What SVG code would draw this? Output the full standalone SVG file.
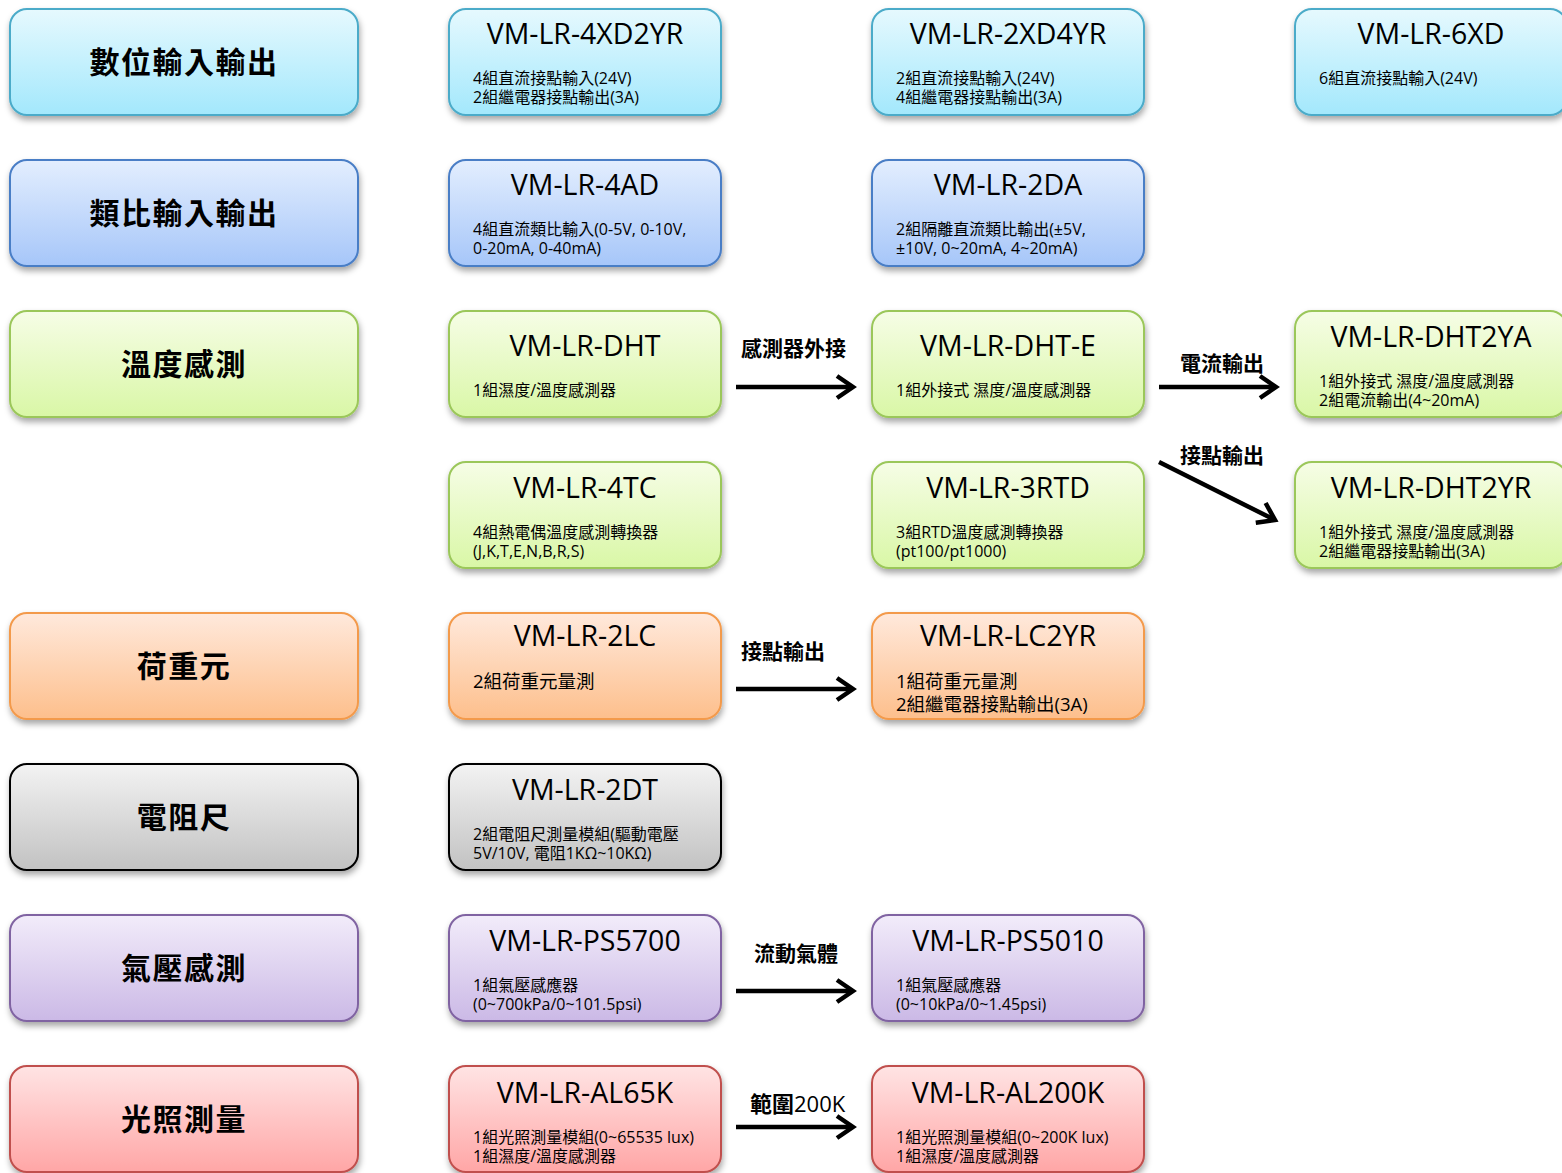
<svg xmlns="http://www.w3.org/2000/svg" width="1562" height="1173" viewBox="0 0 1562 1173">
<defs>
<linearGradient id="gCyan" x1="0" y1="0" x2="0" y2="1"><stop offset="0" stop-color="#e6f9fe"/><stop offset="1" stop-color="#a3e8fc"/></linearGradient>
<linearGradient id="gBlue" x1="0" y1="0" x2="0" y2="1"><stop offset="0" stop-color="#e3eefe"/><stop offset="1" stop-color="#a6c6f9"/></linearGradient>
<linearGradient id="gGreen" x1="0" y1="0" x2="0" y2="1"><stop offset="0" stop-color="#f6fde6"/><stop offset="1" stop-color="#d9f7a6"/></linearGradient>
<linearGradient id="gOrange" x1="0" y1="0" x2="0" y2="1"><stop offset="0" stop-color="#ffe9dc"/><stop offset="1" stop-color="#fdbf8c"/></linearGradient>
<linearGradient id="gGray" x1="0" y1="0" x2="0" y2="1"><stop offset="0" stop-color="#f3f3f3"/><stop offset="1" stop-color="#c2c2c2"/></linearGradient>
<linearGradient id="gPurple" x1="0" y1="0" x2="0" y2="1"><stop offset="0" stop-color="#f2ecfa"/><stop offset="1" stop-color="#cbb9e6"/></linearGradient>
<linearGradient id="gRed" x1="0" y1="0" x2="0" y2="1"><stop offset="0" stop-color="#ffe4e4"/><stop offset="1" stop-color="#ffa6a6"/></linearGradient>
<filter id="sh" x="-10%" y="-10%" width="125%" height="140%"><feDropShadow dx="1" dy="4" stdDeviation="3" flood-color="#000" flood-opacity="0.35"/></filter>
<marker id="ah" markerUnits="userSpaceOnUse" markerWidth="30" markerHeight="30" viewBox="0 0 30 30" refX="22" refY="15" orient="auto">
<path d="M6,4 L22,15 L6,26" fill="none" stroke="#000" stroke-width="4.5" stroke-linejoin="miter"/>
</marker>
</defs>
<style>
rect.b{stroke-width:2;filter:url(#sh)}
.cyan rect{fill:url(#gCyan);stroke:#4babc9}
.blue rect{fill:url(#gBlue);stroke:#4a7ec6}
.green rect{fill:url(#gGreen);stroke:#9bc75a}
.orange rect{fill:url(#gOrange);stroke:#f39a4c}
.gray rect{fill:url(#gGray);stroke:#000}
.purple rect{fill:url(#gPurple);stroke:#8064a2}
.red rect{fill:url(#gRed);stroke:#c0504d}
text{font-family:"Open Sans","Noto Sans CJK TC",sans-serif;fill:#000}
.cat{font-family:"Noto Sans CJK TC",sans-serif;font-size:30px;font-weight:bold;text-anchor:middle;letter-spacing:1.5px}
.t{font-size:28.5px;text-anchor:middle}
.d{font-size:16px}
.dl{font-size:18.5px}
.lbl{font-family:"Noto Sans CJK TC",sans-serif;font-size:21px;font-weight:bold}
.lblm{font-family:"Open Sans","Noto Sans CJK TC",sans-serif;font-size:22px}
.conn line{stroke:#000;stroke-width:4.5;marker-end:url(#ah)}
</style>

<g id="cat-digital" class="cyan"><rect class="b" x="10" y="9" width="348" height="106" rx="17"/><text class="cat" x="184" y="73">數位輸入輸出</text></g>
<g id="cat-analog" class="blue"><rect class="b" x="10" y="160" width="348" height="106" rx="17"/><text class="cat" x="184" y="224">類比輸入輸出</text></g>
<g id="cat-temp" class="green"><rect class="b" x="10" y="311" width="348" height="106" rx="17"/><text class="cat" x="184" y="375">溫度感測</text></g>
<g id="cat-load" class="orange"><rect class="b" x="10" y="613" width="348" height="106" rx="17"/><text class="cat" x="184" y="677">荷重元</text></g>
<g id="cat-resist" class="gray"><rect class="b" x="10" y="764" width="348" height="106" rx="17"/><text class="cat" x="184" y="828">電阻尺</text></g>
<g id="cat-press" class="purple"><rect class="b" x="10" y="915" width="348" height="106" rx="17"/><text class="cat" x="184" y="979">氣壓感測</text></g>
<g id="cat-light" class="red"><rect class="b" x="10" y="1066" width="348" height="106" rx="17"/><text class="cat" x="184" y="1130">光照測量</text></g>

<g id="n-4XD2YR" class="cyan"><rect class="b" x="449" y="9" width="272" height="106" rx="17"/><text class="t" x="585" y="44">VM-LR-4XD2YR</text><text class="d" x="473" y="84">4組直流接點輸入(24V)</text><text class="d" x="473" y="103">2組繼電器接點輸出(3A)</text></g>
<g id="n-2XD4YR" class="cyan"><rect class="b" x="872" y="9" width="272" height="106" rx="17"/><text class="t" x="1008" y="44">VM-LR-2XD4YR</text><text class="d" x="896" y="84">2組直流接點輸入(24V)</text><text class="d" x="896" y="103">4組繼電器接點輸出(3A)</text></g>
<g id="n-6XD" class="cyan"><rect class="b" x="1295" y="9" width="272" height="106" rx="17"/><text class="t" x="1431" y="44">VM-LR-6XD</text><text class="d" x="1319" y="84">6組直流接點輸入(24V)</text></g>

<g id="n-4AD" class="blue"><rect class="b" x="449" y="160" width="272" height="106" rx="17"/><text class="t" x="585" y="195">VM-LR-4AD</text><text class="d" x="473" y="235">4組直流類比輸入(0-5V, 0-10V,</text><text class="d" x="473" y="254">0-20mA, 0-40mA)</text></g>
<g id="n-2DA" class="blue"><rect class="b" x="872" y="160" width="272" height="106" rx="17"/><text class="t" x="1008" y="195">VM-LR-2DA</text><text class="d" x="896" y="235">2組隔離直流類比輸出(±5V,</text><text class="d" x="896" y="254">±10V, 0~20mA, 4~20mA)</text></g>

<g id="n-DHT" class="green"><rect class="b" x="449" y="311" width="272" height="106" rx="17"/><text class="t" x="585" y="356">VM-LR-DHT</text><text class="d" x="473" y="396">1組濕度/溫度感測器</text></g>
<g id="n-DHT-E" class="green"><rect class="b" x="872" y="311" width="272" height="106" rx="17"/><text class="t" x="1008" y="356">VM-LR-DHT-E</text><text class="d" x="896" y="396">1組外接式 濕度/溫度感測器</text></g>
<g id="n-DHT2YA" class="green"><rect class="b" x="1295" y="311" width="272" height="106" rx="17"/><text class="t" x="1431" y="347">VM-LR-DHT2YA</text><text class="d" x="1319" y="387">1組外接式 濕度/溫度感測器</text><text class="d" x="1319" y="406">2組電流輸出(4~20mA)</text></g>

<g id="n-4TC" class="green"><rect class="b" x="449" y="462" width="272" height="106" rx="17"/><text class="t" x="585" y="498">VM-LR-4TC</text><text class="d" x="473" y="538">4組熱電偶溫度感測轉換器</text><text class="d" x="473" y="557">(J,K,T,E,N,B,R,S)</text></g>
<g id="n-3RTD" class="green"><rect class="b" x="872" y="462" width="272" height="106" rx="17"/><text class="t" x="1008" y="498">VM-LR-3RTD</text><text class="d" x="896" y="538">3組RTD溫度感測轉換器</text><text class="d" x="896" y="557">(pt100/pt1000)</text></g>
<g id="n-DHT2YR" class="green"><rect class="b" x="1295" y="462" width="272" height="106" rx="17"/><text class="t" x="1431" y="498">VM-LR-DHT2YR</text><text class="d" x="1319" y="538">1組外接式 濕度/溫度感測器</text><text class="d" x="1319" y="557">2組繼電器接點輸出(3A)</text></g>

<g id="n-2LC" class="orange"><rect class="b" x="449" y="613" width="272" height="106" rx="17"/><text class="t" x="585" y="646">VM-LR-2LC</text><text class="dl" x="473" y="688">2組荷重元量測</text></g>
<g id="n-LC2YR" class="orange"><rect class="b" x="872" y="613" width="272" height="106" rx="17"/><text class="t" x="1008" y="646">VM-LR-LC2YR</text><text class="dl" x="896" y="688">1組荷重元量測</text><text class="dl" x="896" y="711">2組繼電器接點輸出(3A)</text></g>

<g id="n-2DT" class="gray"><rect class="b" x="449" y="764" width="272" height="106" rx="17"/><text class="t" x="585" y="800">VM-LR-2DT</text><text class="d" x="473" y="840">2組電阻尺測量模組(驅動電壓</text><text class="d" x="473" y="859">5V/10V, 電阻1KΩ~10KΩ)</text></g>

<g id="n-PS5700" class="purple"><rect class="b" x="449" y="915" width="272" height="106" rx="17"/><text class="t" x="585" y="951">VM-LR-PS5700</text><text class="d" x="473" y="991">1組氣壓感應器</text><text class="d" x="473" y="1010">(0~700kPa/0~101.5psi)</text></g>
<g id="n-PS5010" class="purple"><rect class="b" x="872" y="915" width="272" height="106" rx="17"/><text class="t" x="1008" y="951">VM-LR-PS5010</text><text class="d" x="896" y="991">1組氣壓感應器</text><text class="d" x="896" y="1010">(0~10kPa/0~1.45psi)</text></g>

<g id="n-AL65K" class="red"><rect class="b" x="449" y="1066" width="272" height="106" rx="17"/><text class="t" x="585" y="1103">VM-LR-AL65K</text><text class="d" x="473" y="1143">1組光照測量模組(0~65535 lux)</text><text class="d" x="473" y="1162">1組濕度/溫度感測器</text></g>
<g id="n-AL200K" class="red"><rect class="b" x="872" y="1066" width="272" height="106" rx="17"/><text class="t" x="1008" y="1103">VM-LR-AL200K</text><text class="d" x="896" y="1143">1組光照測量模組(0~200K lux)</text><text class="d" x="896" y="1162">1組濕度/溫度感測器</text></g>

<g id="connectors" class="conn">
<line x1="736" y1="387" x2="853" y2="387"/><text class="lbl" x="741" y="356">感測器外接</text>
<line x1="1159" y1="387" x2="1276" y2="387"/><text class="lbl" x="1180" y="371">電流輸出</text>
<line x1="1159" y1="462" x2="1275" y2="520"/><text class="lbl" x="1180" y="463">接點輸出</text>
<line x1="736" y1="689" x2="853" y2="689"/><text class="lbl" x="741" y="659">接點輸出</text>
<line x1="736" y1="991" x2="853" y2="991"/><text class="lbl" x="754" y="961">流動氣體</text>
<line x1="736" y1="1127" x2="853" y2="1127"/><text class="lblm" x="750" y="1112"><tspan font-weight="bold" font-family="Noto Sans CJK TC">範圍</tspan>200K</text>
</g>
</svg>
